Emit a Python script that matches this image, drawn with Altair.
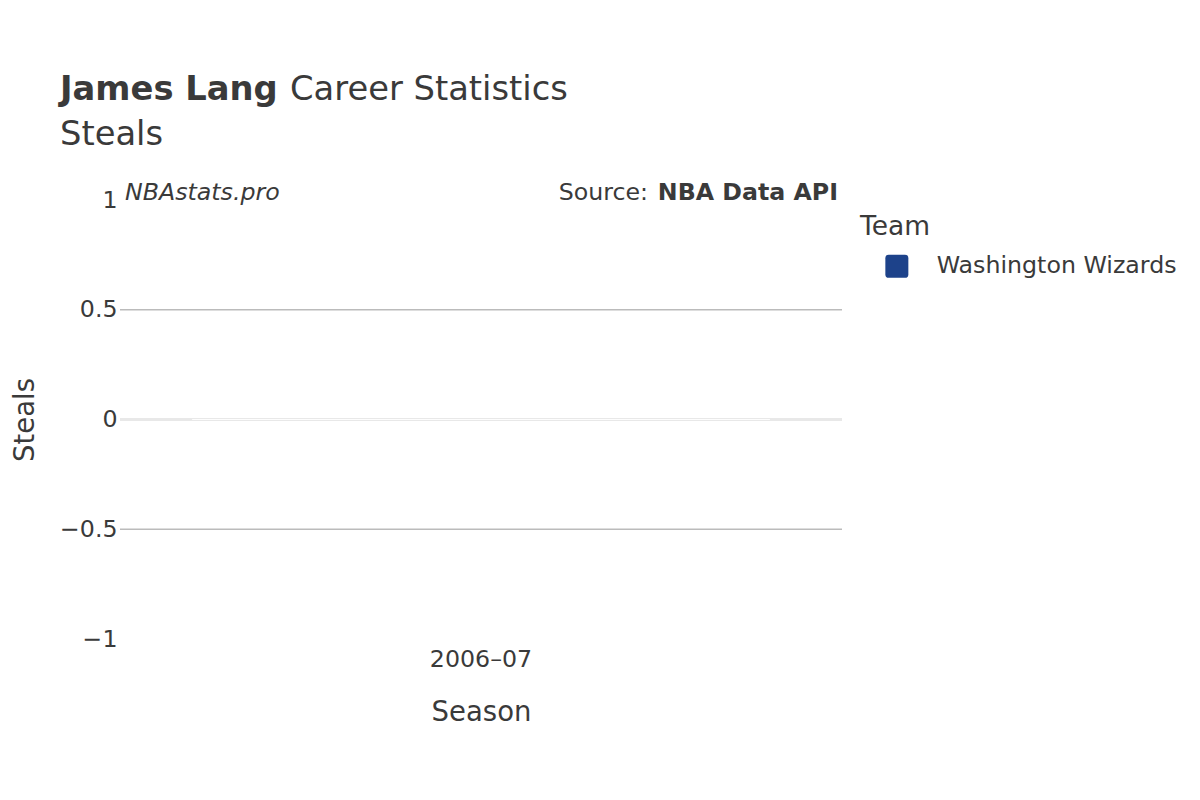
import altair as alt
import pandas as pd

# ---- data ----
seasons = ["2006–07"]
teams = ["Washington Wizards"]
steals = [0]
team_colors = ["#1d428a"]
y_ticks = [-1, -0.5, 0, 0.5, 1]
grid_values = [-0.5, 0.5]
zero_values = [0]

title_bold = "James Lang"
title_rest = "Career Statistics"
subtitle = "Steals"
brand = "NBAstats.pro"
source_lbl = "Source:"
source_bold = "NBA Data API"

df = pd.DataFrame({"Season": seasons, "Team": teams, "Steals": steals})
grid_df = pd.DataFrame({"Steals": grid_values})
zero_df = pd.DataFrame({"Steals": zero_values})
one = pd.DataFrame({"k": [0]})

FONT = "DejaVu Sans"
TEXT = "#3a3a3a"
W, H = 722, 439
SMALL = 23.7

yscale = alt.Scale(domain=[-1, 1], nice=False, zero=False)
yaxis = alt.Axis(title="Steals", values=y_ticks, format="~g",
                 ticks=False, tickSize=0, domain=False, grid=False,
                 labelPadding=3, labelFontSize=SMALL, titleFontSize=27.5,
                 titleFontWeight="normal", titlePadding=20,
                 labelColor=TEXT, titleColor=TEXT,
                 labelFont=FONT, titleFont=FONT)
ychan = alt.Y("Steals:Q", scale=yscale, axis=yaxis, title="Steals")

grid = alt.Chart(grid_df).mark_rule(color="#bbbbbb", strokeWidth=1.6).encode(y=ychan)
zero = alt.Chart(zero_df).mark_rule(color="#e8e8e8", strokeWidth=3).encode(y=ychan)

round_square = ("M -0.7 -1 L 0.7 -1 Q 1 -1 1 -0.7 L 1 0.7 Q 1 1 0.7 1 "
                "L -0.7 1 Q -1 1 -1 0.7 L -1 -0.7 Q -1 -1 -0.7 -1 Z")

bars = alt.Chart(df).mark_bar(stroke="white", strokeWidth=1, strokeOpacity=0.7).encode(
    x=alt.X("Season:N", sort=seasons,
            scale=alt.Scale(paddingInner=0.2, paddingOuter=0.1),
            axis=alt.Axis(title="Season", labelAngle=0, ticks=False, tickSize=0,
                          domain=False, grid=False, labelPadding=8,
                          labelFontSize=SMALL, titleFontSize=27.5,
                          titleFontWeight="normal", titlePadding=28,
                          labelColor=TEXT, titleColor=TEXT,
                          labelFont=FONT, titleFont=FONT)),
    y=ychan,
    color=alt.Color("Team:N", scale=alt.Scale(domain=teams, range=team_colors),
                    legend=alt.Legend(title="Team", orient="none",
                                      legendX=740, legendY=14,
                                      titleFontSize=26.5, titleFontWeight="normal",
                                      titleColor=TEXT, titleFont=FONT,
                                      labelFontSize=SMALL, labelColor=TEXT,
                                      labelFont=FONT, labelLimit=400,
                                      symbolType=round_square,
                                      symbolSize=529, symbolStrokeWidth=0,
                                      symbolOffset=25, labelOffset=28,
                                      padding=0, titlePadding=14)),
)


def txt(s, x, y, size, weight="normal", style="normal", align="left"):
    return alt.Chart(one).mark_text(
        text=s, font=FONT, fontSize=size, fontWeight=weight, fontStyle=style,
        align=align, baseline="alphabetic", color=TEXT,
    ).encode(x=alt.value(x), y=alt.value(y))


texts = [
    txt(title_bold, -60, -100, 33.75, weight="bold"),
    txt(title_rest, 170, -100, 33.75),
    txt(subtitle, -60, -55, 33.75),
    txt(brand, 5, 0, SMALL, style="italic"),
    txt(source_lbl, 528, 0, SMALL, align="right"),
    txt(source_bold, 718, 0, SMALL, weight="bold", align="right"),
]

chart = alt.layer(grid, zero, bars, *texts).properties(
    width=W, height=H,
    autosize=alt.AutoSizeParams(type="none"),
    padding={"left": 112, "top": 192, "right": 350, "bottom": 100},
    background="white",
).configure_view(stroke=None)

chart.save("out.html", embed_options={"renderer": "svg", "actions": False})
